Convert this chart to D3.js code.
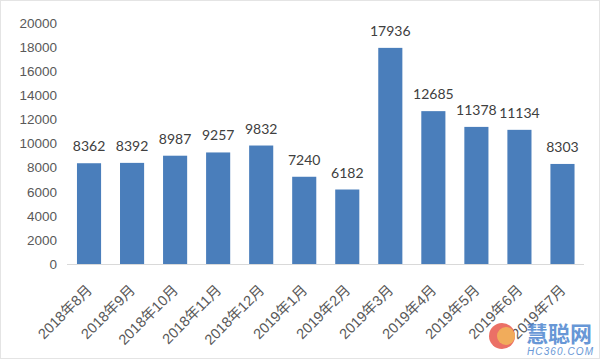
<!DOCTYPE html>
<html><head><meta charset="utf-8">
<script src="https://cdn.jsdelivr.net/npm/d3@7"></script>
<style>body{margin:0;background:#fff}svg{display:block}</style>
</head><body><svg id="c" width="600" height="360"></svg>
<script>
const categories = ["2018年8月","2018年9月","2018年10月","2018年11月","2018年12月","2019年1月","2019年2月","2019年3月","2019年4月","2019年5月","2019年6月","2019年7月"];
const values = [8362,8392,8987,9257,9832,7240,6182,17936,12685,11378,11134,8303];
const yTicks = [0,2000,4000,6000,8000,10000,12000,14000,16000,18000,20000];

const svg = d3.select("#c");
svg.append("rect").attr("x",0.5).attr("y",0.5).attr("width",599).attr("height",358)
  .attr("fill","#fff").attr("stroke","#e4e4e4");

const x = d3.scaleBand().domain(categories).range([67.5,584]).paddingInner(0.44).paddingOuter(0.22);
const y = d3.scaleLinear().domain([0,20000]).range([264,23]);

// y axis labels
const ya = svg.append("g").attr("transform","translate(57,0)")
  .call(d3.axisLeft(y).tickValues(yTicks).tickSize(0).tickPadding(0).tickFormat(d3.format("d")));
ya.select(".domain").remove();
ya.selectAll("text").attr("fill","#595959").style("font-family","'Liberation Sans',Arial,sans-serif").style("font-size","13.5px");

// baseline
svg.append("line").attr("x1",67).attr("x2",584).attr("y1",y(0)+0.5).attr("y2",y(0)+0.5).attr("stroke","#d9d9d9");

// bars
svg.selectAll(".bar").data(values).join("rect")
  .attr("x",(d,i)=>x(categories[i])).attr("width",x.bandwidth())
  .attr("y",d=>y(d)).attr("height",d=>y(0)-y(d)).attr("fill","#4a7ebb");

// data labels
svg.selectAll(".lbl").data(values).join("text")
  .attr("x",(d,i)=>x(categories[i])+x.bandwidth()/2).attr("y",d=>y(d)-12)
  .attr("text-anchor","middle").attr("fill","#404040")
  .style("font-family","Lato,'Open Sans',sans-serif").style("font-size","14px")
  .text(d=>d);

// x labels
const xa = svg.append("g").attr("transform","translate(0,264)")
  .call(d3.axisBottom(x).tickSize(0).tickPadding(0));
xa.select(".domain").remove();
xa.selectAll("text")
  .attr("text-anchor","end").attr("dy","0").attr("y",0)
  .attr("transform","translate(4,27) rotate(-45)")
  .attr("fill","#595959")
  .style("font-family","'Liberation Sans','Noto Sans CJK SC',sans-serif").style("font-size","14.5px");

// watermark
const wm = svg.append("g");
wm.append("circle").attr("cx",502).attr("cy",336).attr("r",13).attr("fill","#e8574b").attr("opacity",0.85);
wm.append("circle").attr("cx",506).attr("cy",336).attr("r",9).attr("fill","#f2b25a").attr("opacity",0.9);
wm.append("text").attr("x",526).attr("y",342).attr("fill","#4d86cf").attr("opacity",0.85)
  .style("font-family","'Noto Sans CJK SC',sans-serif").style("font-size","22px").style("font-weight","bold").text("慧聪网");
wm.append("text").attr("x",527).attr("y",355).attr("fill","#4d86cf").attr("opacity",0.85)
  .style("font-family","'Liberation Sans',sans-serif").style("font-size","10px").style("font-style","italic").attr("textLength",66).text("HC360.COM");
</script></body></html>
